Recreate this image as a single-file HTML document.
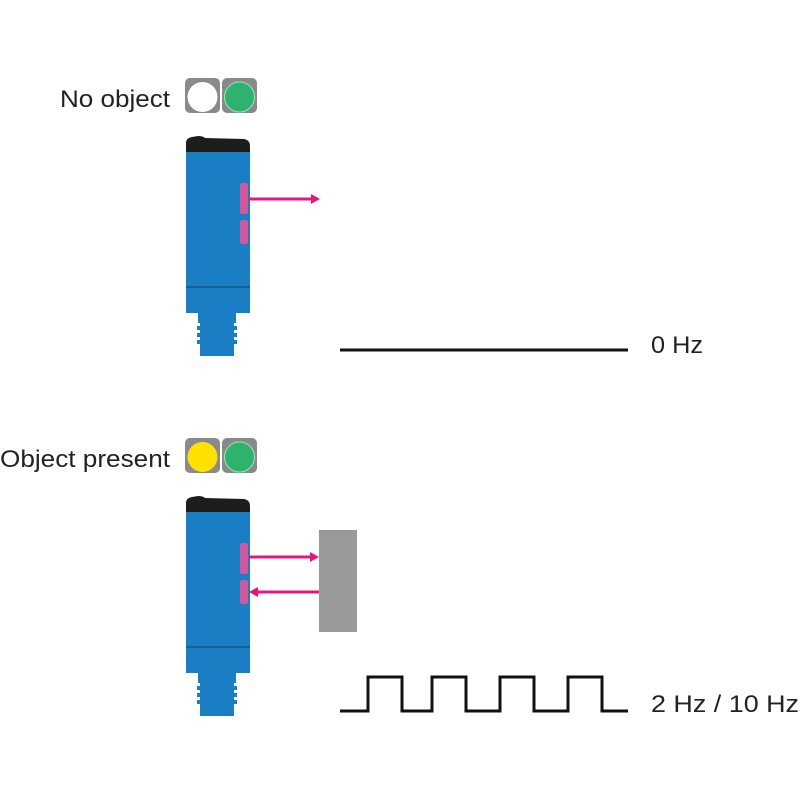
<!DOCTYPE html>
<html><head><style>
body{margin:0;background:#fff;}
svg{display:block}
text{font-family:"Liberation Sans",sans-serif;font-size:24px;fill:#222}
</style></head><body>
<svg width="800" height="800" viewBox="0 0 800 800">
<defs>
<g id="sensor">
  <path d="M186,150 L186,143 Q186,138 192,137 L198,136 Q203,136 205,138 L244,139 Q250,140 250,146 L250,152 L186,152 Z" fill="#1d1d1b"/>
  <rect x="186" y="152" width="64" height="161" fill="#1a7ec4"/>
  <line x1="186" y1="287" x2="250" y2="287" stroke="#145f96" stroke-width="2"/>
  <rect x="198" y="313" width="38" height="10" fill="#1a7ec4"/>
  <g fill="#1a7ec4">
    <rect x="200" y="323" width="34" height="33"/>
    <rect x="197" y="326" width="40" height="4"/>
    <rect x="197" y="333" width="40" height="4"/>
    <rect x="197" y="340" width="40" height="4"/>
  </g>
  <rect x="240" y="183" width="8" height="31" rx="2" fill="#d4579b"/>
  <rect x="240" y="220" width="8" height="24" rx="2" fill="#d4579b"/>
</g>
</defs>
<text x="60" y="107" textLength="110" lengthAdjust="spacingAndGlyphs">No object</text>
<rect x="185" y="78" width="35" height="35" rx="5" fill="#8a8a8a"/>
<circle cx="202.5" cy="97" r="15" fill="#fff"/>
<rect x="222" y="78" width="35" height="35" rx="5" fill="#8a8a8a"/>
<circle cx="239.5" cy="97" r="15" fill="#2db36d" stroke="#9be3b8" stroke-width="1"/>
<use href="#sensor"/>
<line x1="249" y1="199" x2="313" y2="199" stroke="#e5177e" stroke-width="3"/>
<polygon points="320,199 311,194 311,204" fill="#e5177e"/>
<line x1="340" y1="350" x2="628" y2="350" stroke="#111" stroke-width="3"/>
<text x="651" y="353" textLength="52" lengthAdjust="spacingAndGlyphs">0 Hz</text>
<text x="0" y="467" textLength="170" lengthAdjust="spacingAndGlyphs">Object present</text>
<rect x="185" y="438" width="35" height="35" rx="5" fill="#8a8a8a"/>
<circle cx="202.5" cy="457" r="15" fill="#ffe000"/>
<rect x="222" y="438" width="35" height="35" rx="5" fill="#8a8a8a"/>
<circle cx="239.5" cy="457" r="15" fill="#2db36d" stroke="#9be3b8" stroke-width="1"/>
<use href="#sensor" transform="translate(0,360)"/>
<rect x="319" y="530" width="38" height="102" fill="#999"/>
<line x1="249" y1="557" x2="312" y2="557" stroke="#e5177e" stroke-width="3"/>
<polygon points="319,557 310,552 310,562" fill="#e5177e"/>
<line x1="256" y1="592" x2="319" y2="592" stroke="#e5177e" stroke-width="3"/>
<polygon points="249,592 258,587 258,597" fill="#e5177e"/>
<polyline points="340,711 368,711 368,677 402,677 402,711 432,711 432,677 466,677 466,711 500,711 500,677 534,677 534,711 568,711 568,677 602,677 602,711 628,711" fill="none" stroke="#111" stroke-width="3"/>
<text x="651" y="712" textLength="148" lengthAdjust="spacingAndGlyphs">2 Hz / 10 Hz</text>
</svg>
</body></html>
